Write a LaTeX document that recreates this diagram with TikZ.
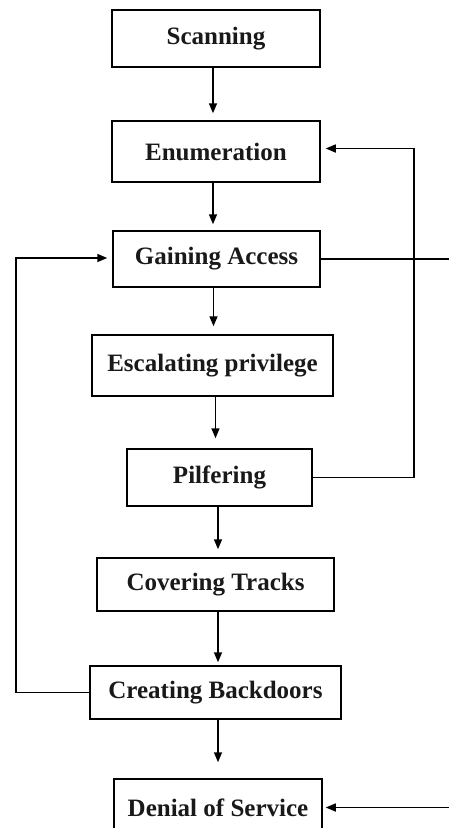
\documentclass[tikz,border=0pt]{standalone}
\usepackage{fontspec}
\setmainfont{Liberation Serif}
\usetikzlibrary{arrows.meta}
\tikzset{
  stepbox/.style={draw=black, line width=1.5pt, fill=white, inner sep=0pt,
    font=\fontsize{25}{30}\selectfont\bfseries, text=black!90},
  conn/.style={draw=black, line width=1.5pt},
  arr/.style={conn, -{Triangle[length=10pt,width=8pt]}}
}
\begin{document}
\begin{tikzpicture}[x=1pt,y=-1pt]
\useasboundingbox (0,0) rectangle (449,828);
\clip (0,0) rectangle (449,828);
\node[stepbox, minimum width=208pt, minimum height=57pt] (scan) at (216,38.5) {Scanning};
\node[stepbox, minimum width=208pt, minimum height=61pt] (enum) at (216,151.5) {Enumeration};
\node[stepbox, minimum width=207pt, minimum height=56pt] (gain) at (216.5,259) {Gaining Access};
\node[stepbox, minimum width=241pt, minimum height=61pt] (esc) at (212.5,365.5) {Escalating privilege};
\node[stepbox, minimum width=185pt, minimum height=57pt] (pilf) at (219.5,477.5) {Pilfering};
\node[stepbox, minimum width=237pt, minimum height=53pt] (cov) at (215.5,584.5) {Covering Tracks};
\node[stepbox, minimum width=251pt, minimum height=53pt] (back) at (215.5,692.5) {Creating Backdoors};
\node[stepbox, minimum width=208pt, minimum height=57pt] (dos) at (218,807.5) {Denial of Service};

\coordinate (rx) at (414,0);
\coordinate (lx) at (16,0);
\coordinate (gr) at (449,259);
\coordinate (dr) at (449,807.5);

\draw[arr, shorten >=7pt] ([xshift=-3pt]scan.south) -- ([xshift=-3pt]scan.south |- enum.north);
\draw[arr, shorten >=6pt] ([xshift=-3pt]enum.south) -- ([xshift=-3pt]enum.south |- gain.north);
\draw[arr, shorten >=8pt] ([xshift=-3pt]gain.south) -- ([xshift=-3pt]gain.south |- esc.north);
\draw[arr, shorten >=10pt] ([xshift=3pt]esc.south) -- ([xshift=3pt]esc.south |- pilf.north);
\draw[arr, shorten >=8pt] ([xshift=-1.5pt]pilf.south) -- ([xshift=-1.5pt]pilf.south |- cov.north);
\draw[arr, shorten >=3pt] ([xshift=2.5pt]cov.south) -- ([xshift=2.5pt]cov.south |- back.north);
\draw[arr, shorten >=16pt] ([xshift=2.5pt]back.south) -- ([xshift=2.5pt]back.south |- dos.north);

\draw[arr, shorten >=5pt] (pilf.east) -- (pilf.east -| rx) -- ([yshift=3pt]enum.east -| rx) -- ([yshift=3pt]enum.east);
\draw[conn] (gain.east) -- (gr);
\draw[arr, shorten >=5pt] (back.west) -- (back.west -| lx) -- ([yshift=1pt]gain.west -| lx) -- ([yshift=1pt]gain.west);
\draw[arr, shorten >=3pt] (dr) -- (dos.east);
\end{tikzpicture}
\end{document}
